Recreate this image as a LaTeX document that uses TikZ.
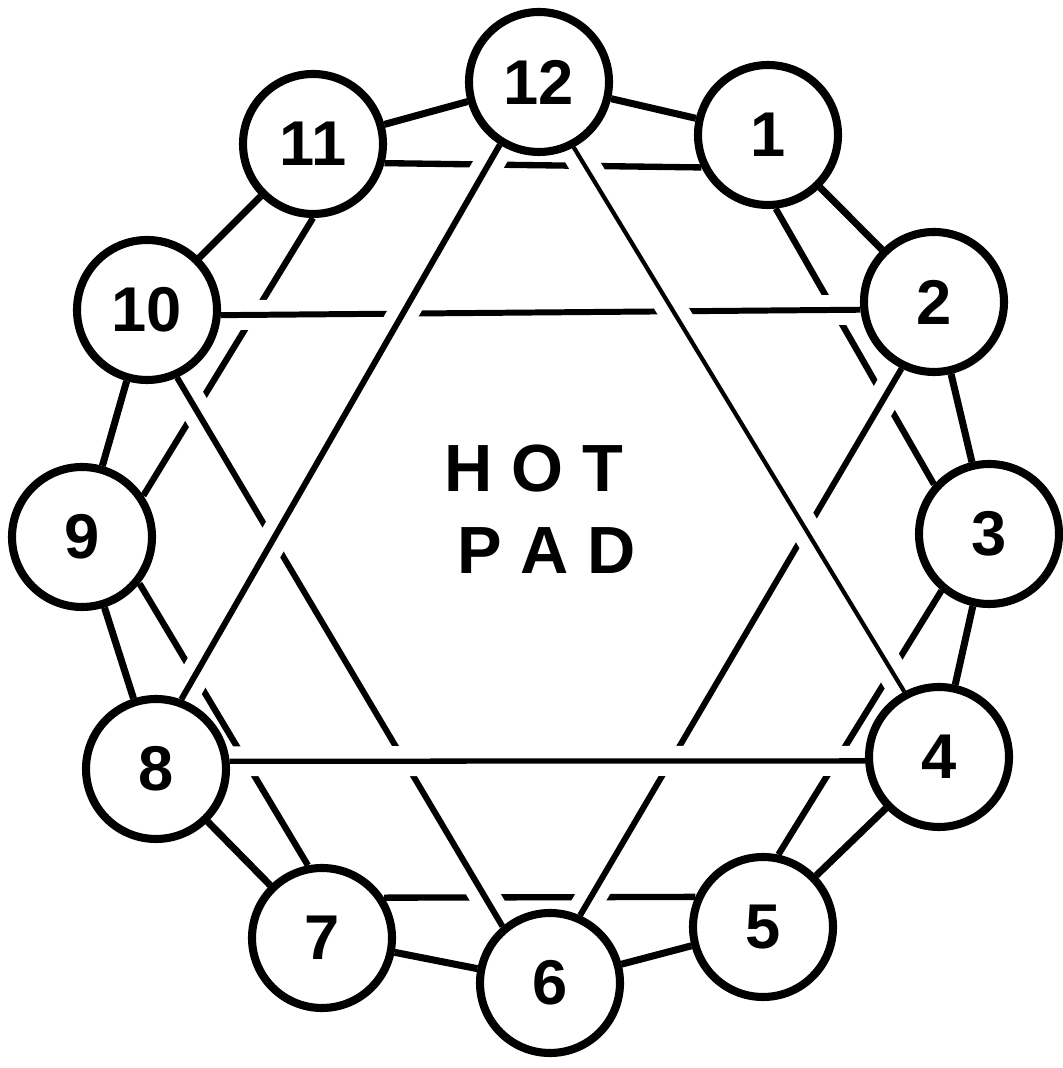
\documentclass[tikz,border=0pt]{standalone}
\usepackage{fontspec}
\setmainfont{Liberation Sans}
\usepackage{tikz}
\usetikzlibrary{backgrounds}
\tikzstyle{stud}=[circle, draw=black, line width=2.3pt, minimum size=1.40cm,
                  inner sep=0pt, font=\fontsize{18}{18}\selectfont\bfseries]
\tikzstyle{rim}=[line width=2pt, color=black]
\tikzstyle{chord}=[line width=1.8pt, color=black]
\tikzstyle{bridge}=[line width=1.7pt, color=black,
                    preaction={draw=white, line width=0.30cm}]
\tikzstyle{padtext}=[font=\fontsize{19}{19}\selectfont\bfseries, inner sep=0pt]

\begin{document}
\begin{tikzpicture}
  \useasboundingbox (0,0) rectangle (10.62,10.68);

  % Terminals round the pad
  \node[stud] (n12) at (5.39,9.86) {12};
  \node[stud] (n1)  at (7.68,9.33) {1};
  \node[stud] (n2)  at (9.34,7.66) {2};
  \node[stud] (n3)  at (9.89,5.34) {3};
  \node[stud] (n4)  at (9.39,3.11) {4};
  \node[stud] (n5)  at (7.63,1.41) {5};
  \node[stud] (n6)  at (5.50,0.85) {6};
  \node[stud] (n7)  at (3.22,1.30) {7};
  \node[stud] (n8)  at (1.56,2.99) {8};
  \node[stud] (n9)  at (0.82,5.31) {9};
  \node[stud] (n10) at (1.47,7.58) {10};
  \node[stud] (n11) at (3.13,9.24) {11};

  % Centre label
  \node[padtext] (hot) at (5.34,5.99) {H O T};
  \node[padtext] (pad) at (5.47,5.17) {P A D};

  \begin{scope}[on background layer]
    \fill[white] (0,0) rectangle (10.62,10.68);

    % Hexagon (lowest)
    \draw[chord] (n11.-15) -- (n1.206);
    \draw[chord] (n1.-84)  -- (n3.138);
    \draw[chord] (n3.230)  -- (n5.78);
    \draw[chord] (n5.156)  -- (n7.33);
    \draw[chord] (n7.101)  -- (n9.-39);
    \draw[chord] (n9.34)   -- (n11.-90);

    % Triangle 10-2-6
    \draw[bridge] (n10.-4) -- (n2.186);
    \draw[bridge] (n2.244) -- (n6.66);
    \draw[bridge] (n6.130) -- (n10.-66);

    % Triangle 12-4-8 (on top)
    \draw[bridge, line width=1.2pt] (n12.-62) -- (n4.118);
    \draw[bridge, line width=1.5pt] (n4.183)  -- (n8.6);
    \draw[bridge] (n8.70)   -- (n12.238);

    % Outer ring
    \draw[rim] (n12) -- (n1);
    \draw[rim] (n1) -- (n2);
    \draw[rim] (n2) -- (n3);
    \draw[rim] (n3) -- (n4);
    \draw[rim] (n4) -- (n5);
    \draw[rim] (n5) -- (n6);
    \draw[rim] (n6) -- (n7);
    \draw[rim] (n7) -- (n8);
    \draw[rim] (n8) -- (n9);
    \draw[rim] (n9) -- (n10);
    \draw[rim] (n10) -- (n11);
    \draw[rim] (n11) -- (n12);
  \end{scope}
\end{tikzpicture}
\end{document}
